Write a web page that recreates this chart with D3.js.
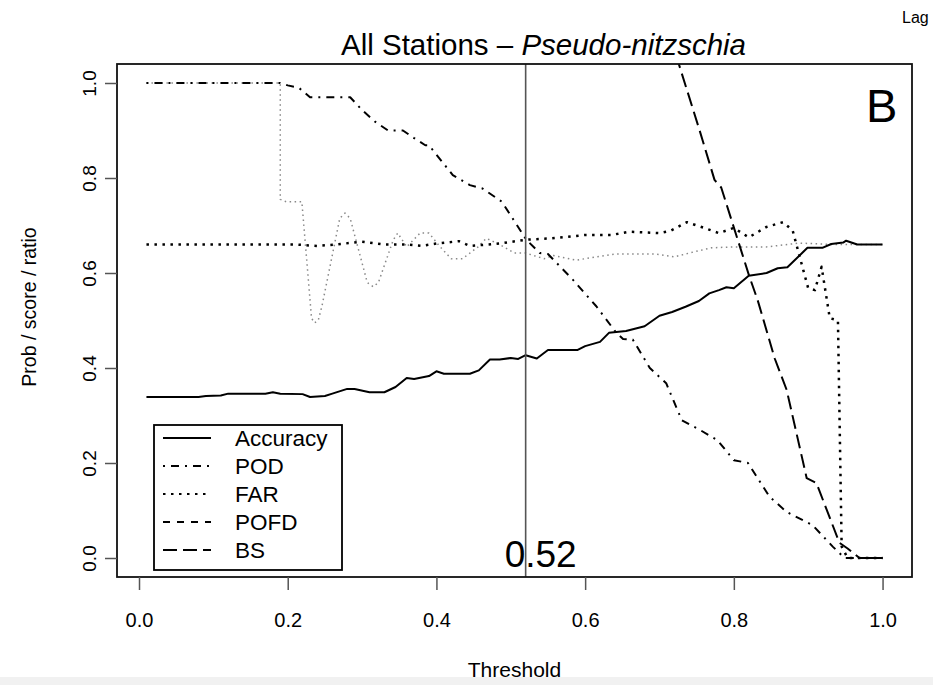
<!DOCTYPE html>
<html>
<head>
<meta charset="utf-8">
<script src="https://cdn.jsdelivr.net/npm/d3@7"></script>
<style>
    body { margin: 0; background: #fff; }
    text { font-family: "Liberation Sans", Arial, Helvetica, sans-serif; fill: #000; }
</style>
</head>
<body>
<svg id="chart" width="933" height="685"></svg>
<script>
let width = 933
let height = 685

// plot box (R style, 4% axis expansion)
let box = { left: 117, right: 912, top: 64, bottom: 577 }

let x_ticks = [0, 0.2, 0.4, 0.6, 0.8, 1.0]
let y_ticks = [0, 0.2, 0.4, 0.6, 0.8, 1.0]
let best_threshold = 0.52

let legend_names = ['Accuracy', 'POD', 'FAR', 'POFD', 'BS']

let acc_x = [0.01, 0.08, 0.09, 0.11, 0.12, 0.17, 0.18, 0.19, 0.22, 0.23, 0.25, 0.26, 0.28, 0.29, 0.31, 0.33,
    0.345, 0.36, 0.37, 0.39, 0.40, 0.41, 0.445, 0.457, 0.472, 0.485, 0.50, 0.51, 0.52, 0.535, 0.55, 0.59,
    0.60, 0.62, 0.632, 0.655, 0.68, 0.70, 0.717, 0.735, 0.753, 0.767, 0.78, 0.79, 0.80, 0.82, 0.844, 0.859,
    0.872, 0.899, 0.919, 0.931, 0.947, 0.951, 0.966, 1.0]
let acc_y = [0.339, 0.339, 0.341, 0.342, 0.346, 0.346, 0.349, 0.346, 0.345, 0.339, 0.341, 0.346, 0.356, 0.356, 0.349, 0.349,
    0.36, 0.379, 0.377, 0.383, 0.393, 0.388, 0.388, 0.395, 0.418, 0.418, 0.421, 0.419, 0.427, 0.42, 0.438, 0.438,
    0.446, 0.455, 0.474, 0.478, 0.488, 0.51, 0.518, 0.529, 0.541, 0.557, 0.564, 0.57, 0.568, 0.594, 0.60, 0.61,
    0.612, 0.653, 0.653, 0.661, 0.664, 0.668, 0.66, 0.66]

let pod_x = [0.01, 0.19, 0.20, 0.215, 0.23, 0.284, 0.30, 0.318, 0.335, 0.355, 0.37, 0.385, 0.39, 0.422, 0.445,
    0.462, 0.488, 0.521, 0.539, 0.55, 0.584, 0.615, 0.642, 0.651, 0.664, 0.687, 0.709, 0.73, 0.754, 0.778,
    0.80, 0.819, 0.848, 0.871, 0.906, 0.933, 0.949, 1.0]
let pod_y = [1.0, 1.0, 0.995, 0.99, 0.97, 0.97, 0.943, 0.918, 0.90, 0.90, 0.884, 0.869, 0.869, 0.806, 0.785,
    0.778, 0.75, 0.67, 0.642, 0.64, 0.585, 0.53, 0.474, 0.461, 0.46, 0.40, 0.368, 0.29, 0.27, 0.248,
    0.206, 0.20, 0.129, 0.097, 0.069, 0.024, 0.0, 0.0]

let far_x = [0.01, 0.21, 0.24, 0.265, 0.30, 0.33, 0.36, 0.38, 0.40, 0.43, 0.445, 0.47, 0.485, 0.52, 0.555,
    0.60, 0.635, 0.66, 0.70, 0.715, 0.737, 0.76, 0.78, 0.80, 0.82, 0.844, 0.866, 0.879, 0.891, 0.90, 0.909,
    0.918, 0.929, 0.94, 0.945, 0.953, 1.0]
let far_y = [0.66, 0.66, 0.657, 0.66, 0.666, 0.66, 0.66, 0.657, 0.662, 0.667, 0.657, 0.66, 0.662, 0.67, 0.673,
    0.68, 0.68, 0.687, 0.684, 0.689, 0.707, 0.695, 0.684, 0.695, 0.675, 0.697, 0.707, 0.69, 0.62, 0.568, 0.564,
    0.613, 0.505, 0.50, 0.024, 0.0, 0.0]

let bs_x = [0.722, 0.754, 0.774, 0.783, 0.821, 0.832, 0.855, 0.871, 0.898, 0.911, 0.942, 0.953, 0.969, 1.0]
let bs_y = [1.06, 0.90, 0.796, 0.78, 0.592, 0.543, 0.42, 0.354, 0.168, 0.158, 0.032, 0.02, 0.0, 0.0]

// thin grey dotted curve (not in the legend)
let grey_x = [0.01, 0.19, 0.19, 0.198, 0.219, 0.227, 0.232, 0.236, 0.241, 0.246, 0.27, 0.277, 0.284, 0.307,
    0.315, 0.322, 0.342, 0.348, 0.36, 0.378, 0.39, 0.405, 0.42, 0.435, 0.456, 0.467, 0.485, 0.505, 0.52,
    0.545, 0.557, 0.588, 0.615, 0.64, 0.694, 0.72, 0.745, 0.77, 0.80, 0.844, 0.888, 0.933, 1.0]
let grey_y = [1.0, 1.0, 0.755, 0.75, 0.75, 0.6, 0.505, 0.495, 0.50, 0.53, 0.715, 0.726, 0.715, 0.58,
    0.571, 0.58, 0.67, 0.684, 0.655, 0.684, 0.684, 0.655, 0.63, 0.63, 0.655, 0.673, 0.66, 0.642, 0.642,
    0.63, 0.637, 0.627, 0.634, 0.64, 0.64, 0.634, 0.644, 0.653, 0.655, 0.655, 0.663, 0.66, 0.66]

let styles = {
    'Accuracy': { dash: null, width: 2, color: '#000' },
    'POD': { dash: '2,6,8,6', width: 2, color: '#000' },
    'FAR': { dash: '2.5,5.5', width: 2.5, color: '#000' },
    'POFD': { dash: '7,7', width: 2, color: '#000' },
    'BS': { dash: '14,6', width: 2, color: '#000' },
    'grey': { dash: '1.5,3.5', width: 1.5, color: '#888' }
}

function zip(xs, ys) {
    return xs.map((x, i) => [x, ys[i]])
}

let series = [
    { name: 'grey', points: zip(grey_x, grey_y) },
    { name: 'FAR', points: zip(far_x, far_y) },
    { name: 'POD', points: zip(pod_x, pod_y) },
    { name: 'BS', points: zip(bs_x, bs_y) },
    { name: 'Accuracy', points: zip(acc_x, acc_y) }
]

let svg = d3.select('#chart')

let x = d3.scaleLinear()
    .domain([0.01 - 0.0396, 1 + 0.0396])
    .range([box.left, box.right])

let y = d3.scaleLinear()
    .domain([-0.04, 1.04])
    .range([box.bottom, box.top])

// faint grey strip along the bottom edge
svg.append('rect')
    .attr('x', 0).attr('y', 677)
    .attr('width', width).attr('height', height - 677)
    .attr('fill', '#f1f1f1')

svg.append('clipPath')
    .attr('id', 'plot-clip')
    .append('rect')
    .attr('x', box.left).attr('y', box.top)
    .attr('width', box.right - box.left).attr('height', box.bottom - box.top)

let line = d3.line()
    .x(d => x(d[0]))
    .y(d => y(d[1]))

svg.append('g')
    .attr('clip-path', 'url(#plot-clip)')
    .selectAll('path')
    .data(series)
    .enter()
    .append('path')
    .attr('d', d => line(d.points))
    .attr('fill', 'none')
    .attr('stroke', d => styles[d.name].color)
    .attr('stroke-width', d => styles[d.name].width)
    .attr('stroke-dasharray', d => styles[d.name].dash)
    .attr('stroke-linejoin', 'round')

// chosen threshold
svg.append('line')
    .attr('x1', x(best_threshold)).attr('x2', x(best_threshold))
    .attr('y1', box.top).attr('y2', box.bottom)
    .attr('stroke', '#555')
    .attr('stroke-width', 1.6)

svg.append('text')
    .attr('x', x(best_threshold) - 21)
    .attr('y', y(0) + 9)
    .attr('font-size', 37)
    .text(best_threshold.toFixed(2))

// box
svg.append('rect')
    .attr('x', box.left).attr('y', box.top)
    .attr('width', box.right - box.left).attr('height', box.bottom - box.top)
    .attr('fill', 'none')
    .attr('stroke', '#111')
    .attr('stroke-width', 1.8)

// axes
let x_axis = svg.append('g')
    .attr('transform', `translate(0, ${box.bottom})`)
    .call(d3.axisBottom(x).tickValues(x_ticks).tickSize(13).tickFormat(d3.format('.1f')))
x_axis.select('.domain').remove()
x_axis.selectAll('line').attr('stroke', '#555').attr('stroke-width', 1.5)
x_axis.selectAll('text')
    .attr('y', 50).attr('dy', null)
    .attr('font-size', 20)
    .attr('fill', '#000')
    .style('font-family', '"Liberation Sans", Arial, sans-serif')

let y_axis = svg.append('g')
    .attr('transform', `translate(${box.left}, 0)`)
    .call(d3.axisLeft(y).tickValues(y_ticks).tickSize(12).tickFormat(d3.format('.1f')))
y_axis.select('.domain').remove()
y_axis.selectAll('line').attr('stroke', '#555').attr('stroke-width', 1.5)
y_axis.selectAll('text')
    .attr('x', 0).attr('dy', null)
    .attr('transform', 'translate(-21, 0) rotate(-90)')
    .attr('text-anchor', 'middle')
    .attr('font-size', 19)
    .attr('fill', '#000')
    .style('font-family', '"Liberation Sans", Arial, sans-serif')

// titles
let title = svg.append('text')
    .attr('x', 341)
    .attr('y', 55)
    .attr('font-size', 29.5)
title.append('tspan').text('All Stations \u2013 ')
title.append('tspan').attr('font-style', 'italic').text('Pseudo-nitzschia')

svg.append('text')
    .attr('x', (box.left + box.right) / 2)
    .attr('y', 677)
    .attr('text-anchor', 'middle')
    .attr('font-size', 21)
    .text('Threshold')

svg.append('text')
    .attr('transform', `translate(36, 307) rotate(-90)`)
    .attr('text-anchor', 'middle')
    .attr('font-size', 19.5)
    .text('Prob / score / ratio')

svg.append('text')
    .attr('x', 866)
    .attr('y', 122)
    .attr('font-size', 47)
    .text('B')

svg.append('text')
    .attr('x', 902)
    .attr('y', 23)
    .attr('font-size', 16)
    .text('Lag')

// legend
let legend = svg.append('g')
    .attr('transform', 'translate(154, 425)')

legend.append('rect')
    .attr('width', 188).attr('height', 145)
    .attr('fill', '#fff')
    .attr('stroke', '#000')
    .attr('stroke-width', 1.8)

let rows = legend.selectAll('.row')
    .data(legend_names)
    .enter()
    .append('g')
    .attr('transform', (d, i) => `translate(0, ${13 + i * 28})`)

rows.append('line')
    .attr('x1', 9).attr('x2', 57)
    .attr('stroke', d => styles[d].color)
    .attr('stroke-width', 2)
    .attr('stroke-dasharray', d => styles[d].dash)

rows.append('text')
    .attr('x', 81)
    .attr('y', 8)
    .attr('font-size', 22.5)
    .text(d => d)
</script>
</body>
</html>
